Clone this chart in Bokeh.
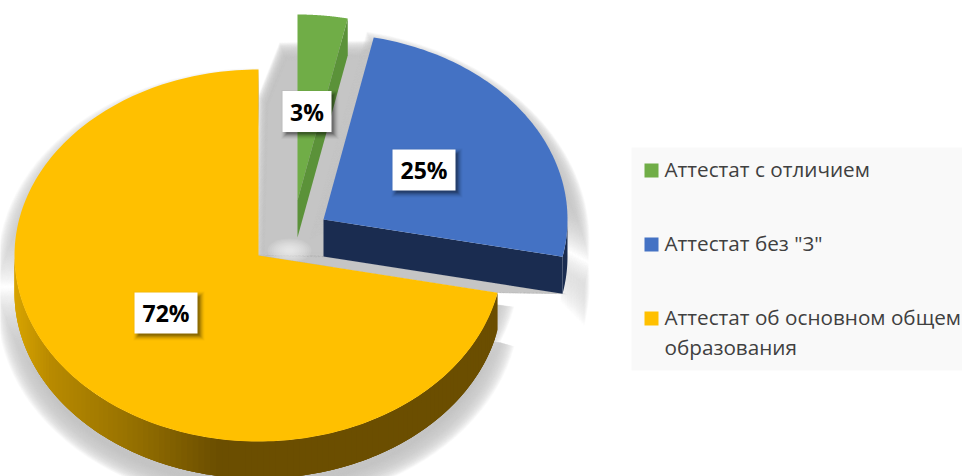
import math
from bokeh.plotting import figure
from bokeh.models import Range1d
from bokeh.embed import file_html
from bokeh.resources import INLINE
from bokeh.core.properties import value

categories = ["Аттестат с отличием", 'Аттестат без "3"', "Аттестат об основном общем\nобразования"]
shares = [3.3, 24.9, 71.8]
labels = [f"{round(v)}%" for v in shares]
top_colors = ["#70ad47", "#4472c4", "#ffc000"]
side_colors = ["#5b9239", "#1a2c50", "#6b4e00"]

# geometry of each slice's top face: centre x, centre y, radii
centres = [(297, 200), (323, 219), (258, 255)]
RX, RY, DEPTH = 244, 186, 37
label_boxes = [(306.5, 111, 49, 41), (423.5, 169.5, 63, 41), (165.5, 312.5, 63, 41)]
legend_y = [170, 244, 318]

W, H = 962, 476
p = figure(width=W, height=H, x_range=Range1d(0, W), y_range=Range1d(H, 0),
           output_backend="svg", toolbar_location=None, min_border=0)
p.axis.visible = False
p.grid.visible = False
p.outline_line_color = None
p.background_fill_color = "white"

# slice angles, clockwise from the top
angles, a0 = [], 0.0
for v in shares:
    angles.append((a0, a0 + v / sum(shares) * 360))
    a0 += v / sum(shares) * 360

def pt(c, deg, dy=0):
    t = math.radians(deg)
    return c[0] + RX * math.sin(t), c[1] - RY * math.cos(t) + dy

def arc(c, a, b, dy=0, n=80):
    return [pt(c, a + (b - a) * i / n, dy) for i in range(n + 1)]

def poly(points, color, alpha=1.0):
    p.patch([q[0] for q in points], [q[1] for q in points], fill_color=color, fill_alpha=alpha, line_color=None)

def blur(points, origin, s0, s1, layers=34, color="#c6c6c6", alpha=0.085, shift=(0, 0)):
    for i in range(layers):
        s = s0 + (s1 - s0) * i / (layers - 1)
        poly([(origin[0] + (x - origin[0]) * s + shift[0], origin[1] + (y - origin[1]) * s + shift[1])
              for x, y in points], color, alpha)

def hull(c, a, b):
    return [c] + arc(c, a, b) + arc(c, b, a, DEPTH)

# --- soft shadows
back = [(262, 100), (282, 50), (380, 48), (380, 150), (330, 262), (300, 262), (258, 262)]
blur(back, (320, 150), 1.08, 0.90)
gap = [centres[2], pt(centres[2], angles[2][0]), pt(centres[1], angles[1][1], DEPTH), (centres[1][0], centres[1][1] + DEPTH)]
blur(gap, (410, 276), 1.04, 0.96)
blur(hull(centres[1], *angles[1]), (440, 170), 1.15, 0.96, shift=(3, 14))
blur(hull(centres[2], *angles[2]), (258, 275), 1.07, 0.95, shift=(0, 13))
for r in range(22, 2, -2):
    p.ellipse(x=[289], y=[250], width=[r * 2], height=[r * 1.1], fill_color="white", fill_alpha=0.09, line_color=None)

# --- green slice
c = centres[0]; a, b = angles[0]
poly(arc(c, a, b) + [c], top_colors[0])
poly([c, pt(c, b), pt(c, b, DEPTH), (c[0], c[1] + DEPTH)], side_colors[0])

# --- blue slice
c = centres[1]; a, b = angles[1]
poly([c, pt(c, b), pt(c, b, DEPTH), (c[0], c[1] + DEPTH)], side_colors[1])
poly(arc(c, 90, b, 0, 20) + arc(c, b, 90, DEPTH, 20), side_colors[1])
poly(arc(c, a, b) + [c], top_colors[1])

# --- yellow slice: outer wall shaded strip by strip
c = centres[2]; a, b = angles[2]
stops = [(14, (0xd8, 0xa4, 0x00)), (50, (0xb8, 0x8a, 0x00)), (133, (0x95, 0x70, 0x00)), (217, (0x6b, 0x4e, 0x00)), (962, (0x6b, 0x4e, 0x00))]
def shade(x):
    for (x0, k0), (x1, k1) in zip(stops, stops[1:]):
        if x <= x1:
            t = max(0, (x - x0) / (x1 - x0))
            return "#%02x%02x%02x" % tuple(round(u + (w - u) * t) for u, w in zip(k0, k1))
    return "#6b4e00"
n = 120
for i in range(n):
    # painted from the dark end; each strip runs on under the next one, so no seams show
    d0 = a + (270 - a) * i / n
    d1 = min(270, a + (270 - a) * (i + 3) / n)
    q = arc(c, d0, d1, 0, 4) + arc(c, d1, d0, DEPTH, 4)
    poly(q, shade(pt(c, d0 + (270 - a) * 0.5 / n)[0]))
poly(arc(c, a, b, 0, 200) + [c], top_colors[2])

# --- data labels
for (x, y, w, h), t in zip(label_boxes, labels):
    for g, al in [(8, 0.03), (6, 0.05), (4, 0.07), (2, 0.1), (0, 0.13), (-2, 0.16)]:
        p.rect(x=[x + 3], y=[y + 3], width=[w + g], height=[h + g], fill_color="black", fill_alpha=al, line_color=None)
    p.rect(x=[x], y=[y], width=[w], height=[h], fill_color="white", line_color=None)
    p.text(x=[x], y=[y], text=[t], text_align="center", text_baseline="middle",
           text_font=value("Open Sans"), text_font_style="bold", text_font_size="23px", text_color="black")

# --- legend
p.quad(left=[631], right=[962], top=[147], bottom=[370], fill_color="#f9f9f9", line_color=None)
for yy, col, cat in zip(legend_y, top_colors, categories):
    p.rect(x=[651], y=[yy], width=[14], height=[14], fill_color=col, line_color=None)
    for k, line in enumerate(cat.split("\n")):
        p.text(x=[664], y=[yy - 2 + k * 30], text=[line], text_align="left", text_baseline="middle",
               text_font=value("Open Sans"), text_font_size="20.7px", text_color="#404040")

open("out.html", "w").write(file_html(p, INLINE))
